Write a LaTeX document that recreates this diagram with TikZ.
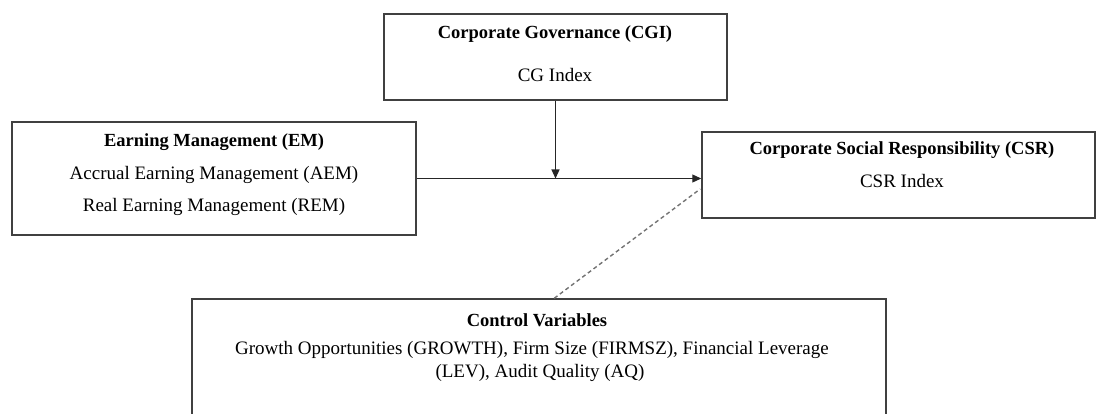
\documentclass[tikz,border=0pt]{standalone}
\usepackage{fontspec}
\setmainfont{Liberation Serif}
\usetikzlibrary{arrows.meta,calc}
\begin{document}
\begin{tikzpicture}[x=1pt,y=-1pt,
  box/.style={draw=black!75,line width=1.5pt,inner sep=0pt,fill=white},
  txt/.style={inner sep=0pt,font=\fontsize{19}{22}\selectfont},
  ttl/.style={inner sep=0pt,font=\fontsize{18.5}{22}\selectfont\bfseries},
  arr/.style={draw=black!85,line width=1.2pt,-{Triangle[length=9pt,width=8pt]}},
  dsh/.style={draw=black!55,line width=1.4pt,dash pattern=on 4pt off 3pt}]
\useasboundingbox (0,0) rectangle (1096,414);
\clip (0,0) rectangle (1096,414);
% boxes
\node[box,minimum width=343pt,minimum height=86pt] (cgi) at (555.5,57) {};
\node[box,minimum width=404pt,minimum height=113pt] (em) at (214,178.5) {};
\node[box,minimum width=393pt,minimum height=86pt] (csr) at (898.5,175) {};
\node[box,minimum width=694pt,minimum height=140pt] (ctl) at (539,369) {};
% texts
\node[ttl] (cgit) at (555,34) {Corporate Governance (CGI)};
\node[txt] (cgii) at (555,75) {CG Index};
\node[ttl] (emt) at (214,142) {Earning Management (EM)};
\node[txt] (ema) at (214,175) {Accrual Earning Management (AEM)};
\node[txt] (emr) at (214,207) {Real Earning Management (REM)};
\node[ttl] (csrt) at (902,150) {Corporate Social Responsibility (CSR)};
\node[txt] (csri) at (902,181) {CSR Index};
\node[ttl] (ctlt) at (537,320) {Control Variables};
\node[txt] (ctla) at (532,350) {Growth Opportunities (GROWTH), Firm Size (FIRMSZ), Financial Leverage};
\node[txt] (ctlb) at (540,373) {(LEV), Audit Quality (AQ)};
% connectors
\draw[arr] (em.east) -- (em.east -| csr.west);
\draw[arr] (cgi.south) -- (cgi.south |- em.east);
\coordinate (d1) at ($(ctl.north west)+(363,0)$);
\coordinate (d2) at ($(csr.west)+(-1,14)$);
\draw[dsh] (d1) -- (d2);
\end{tikzpicture}
\end{document}
